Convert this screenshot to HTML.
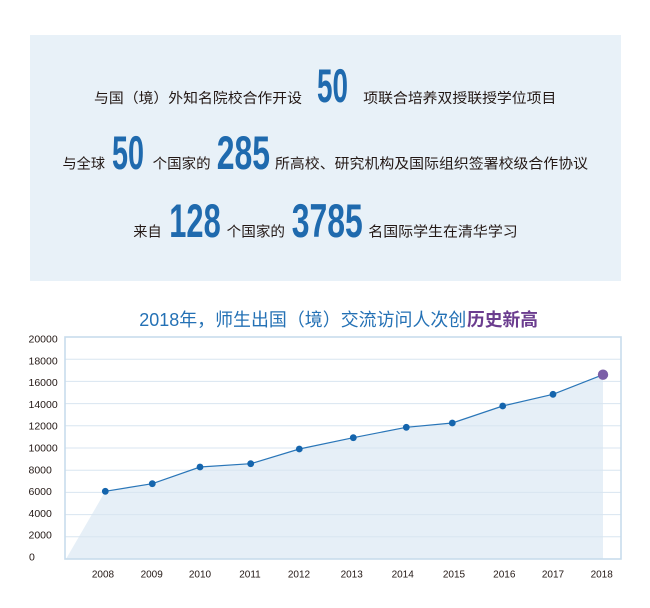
<!DOCTYPE html>
<html><head><meta charset="utf-8"><style>
html,body{margin:0;padding:0;background:#fff;width:650px;height:608px;overflow:hidden}
svg{display:block}
.cn{font-family:"Liberation Sans","Noto Sans CJK SC",sans-serif;font-size:14px;fill:#231815}
.num{font-family:"Liberation Sans",sans-serif;font-weight:bold;font-size:47px;fill:#1f6aae}
.ax{font-family:"Liberation Sans",sans-serif;font-size:10.5px;fill:#231815}
</style></head><body>
<svg width="650" height="608" viewBox="0 0 650 608" xmlns="http://www.w3.org/2000/svg">
<rect x="30" y="35" width="591" height="246" fill="#e8f1f8"/>
<!-- line 1 -->
<text class="cn" x="94" y="103" textLength="208" lengthAdjust="spacingAndGlyphs">与国（境）外知名院校合作开设</text>
<text class="num" x="317" y="102" textLength="31" lengthAdjust="spacingAndGlyphs">50</text>
<text class="cn" x="363.3" y="103" textLength="193" lengthAdjust="spacingAndGlyphs">项联合培养双授联授学位项目</text>
<!-- line 2 -->
<text class="cn" x="62.5" y="168.5" textLength="42.5" lengthAdjust="spacingAndGlyphs">与全球</text>
<text class="num" x="112" y="169" textLength="32" lengthAdjust="spacingAndGlyphs">50</text>
<text class="cn" x="152.7" y="168.5" textLength="58" lengthAdjust="spacingAndGlyphs">个国家的</text>
<text class="num" x="216.7" y="169" textLength="53.3" lengthAdjust="spacingAndGlyphs">285</text>
<text class="cn" x="275" y="168.5" textLength="313" lengthAdjust="spacingAndGlyphs">所高校、研究机构及国际组织签署校级合作协议</text>
<!-- line 3 -->
<text class="cn" x="133.3" y="236.5" textLength="28.4" lengthAdjust="spacingAndGlyphs">来自</text>
<text class="num" x="169.3" y="237" textLength="51.4" lengthAdjust="spacingAndGlyphs">128</text>
<text class="cn" x="226.7" y="236.5" textLength="58.3" lengthAdjust="spacingAndGlyphs">个国家的</text>
<text class="num" x="291.7" y="237" textLength="71" lengthAdjust="spacingAndGlyphs">3785</text>
<text class="cn" x="368.3" y="236.5" textLength="149.4" lengthAdjust="spacingAndGlyphs">名国际学生在清华学习</text>

<!-- title -->
<text x="139.3" y="326" font-family="Liberation Sans,Noto Sans CJK SC,sans-serif" font-size="18" fill="#2471b5"><tspan textLength="327" lengthAdjust="spacingAndGlyphs">2018年，师生出国（境）交流访问人次创</tspan></text>
<text x="467" y="326" font-family="Liberation Sans,Noto Sans CJK SC,sans-serif" font-size="18" font-weight="bold" fill="#6b3d8f" textLength="71" lengthAdjust="spacingAndGlyphs">历史新高</text>

<!-- plot -->
<rect x="65" y="337" width="556" height="222" fill="#fff"/>
<polygon points="66,559 105.3,491.3 152.3,483.7 200,467 250.7,463.7 299.3,449 353.3,437.7 406.3,427.3 452.3,423 502.7,406 553,394.3 603,374.7 603,559" fill="#e6eff7"/>
<g stroke="#d8e5f0" stroke-width="1">
<line x1="65" y1="359.2" x2="621" y2="359.2"/>
<line x1="65" y1="381.4" x2="621" y2="381.4"/>
<line x1="65" y1="403.6" x2="621" y2="403.6"/>
<line x1="65" y1="425.8" x2="621" y2="425.8"/>
<line x1="65" y1="448" x2="621" y2="448"/>
<line x1="65" y1="470.2" x2="621" y2="470.2"/>
<line x1="65" y1="492.4" x2="621" y2="492.4"/>
<line x1="65" y1="514.6" x2="621" y2="514.6"/>
<line x1="65" y1="536.8" x2="621" y2="536.8"/>
</g>
<rect x="65" y="337" width="556" height="222" fill="none" stroke="#c8dcec" stroke-width="1.6"/>
<polyline points="105.3,491.3 152.3,483.7 200,467 250.7,463.7 299.3,449 353.3,437.7 406.3,427.3 452.3,423 502.7,406 553,394.3 603,374.7" fill="none" stroke="#2a76b8" stroke-width="1.2"/>
<g fill="#1565ad">
<circle cx="105.3" cy="491.3" r="3.4"/>
<circle cx="152.3" cy="483.7" r="3.4"/>
<circle cx="200" cy="467" r="3.4"/>
<circle cx="250.7" cy="463.7" r="3.4"/>
<circle cx="299.3" cy="449" r="3.4"/>
<circle cx="353.3" cy="437.7" r="3.4"/>
<circle cx="406.3" cy="427.3" r="3.4"/>
<circle cx="452.3" cy="423" r="3.4"/>
<circle cx="502.7" cy="406" r="3.4"/>
<circle cx="553" cy="394.3" r="3.4"/>
</g>
<circle cx="603" cy="374.7" r="5.2" fill="#7b5ea7"/>

<!-- y labels -->
<g class="ax">
<text x="28.5" y="342.6">20000</text>
<text x="28.5" y="364.4">18000</text>
<text x="28.5" y="386.2">16000</text>
<text x="28.5" y="407.9">14000</text>
<text x="28.5" y="429.7">12000</text>
<text x="28.5" y="451.5">10000</text>
<text x="28.5" y="473.3">8000</text>
<text x="28.5" y="495">6000</text>
<text x="28.5" y="516.8">4000</text>
<text x="28.5" y="538.6">2000</text>
<text x="29" y="560.3">0</text>
</g>
<!-- x labels -->
<g class="ax" font-size="10" text-anchor="middle" style="font-size:10px">
<text x="103" y="577.5">2008</text>
<text x="151.7" y="577.5">2009</text>
<text x="200" y="577.5">2010</text>
<text x="250" y="577.5">2011</text>
<text x="299" y="577.5">2012</text>
<text x="351.7" y="577.5">2013</text>
<text x="402.7" y="577.5">2014</text>
<text x="454" y="577.5">2015</text>
<text x="504.3" y="577.5">2016</text>
<text x="553" y="577.5">2017</text>
<text x="601.7" y="577.5">2018</text>
</g>
</svg>
</body></html>
